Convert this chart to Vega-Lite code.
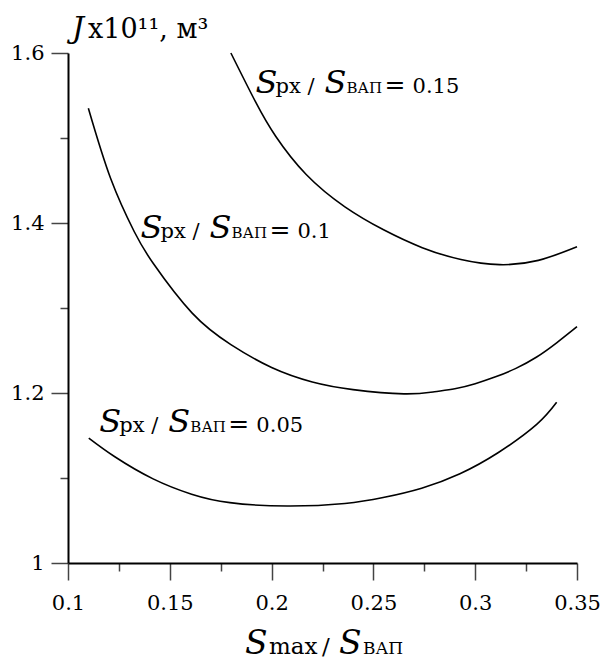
{
  "$schema": "https://vega.github.io/schema/vega-lite/v6.json",
  "width": 509,
  "height": 510,
  "autosize": "none",
  "padding": {"left": 68, "top": 53, "right": 25, "bottom": 98},
  "background": "white",
  "config": {
    "view": {"stroke": null},
    "font": "DejaVu Serif",
    "text": {"font": "DejaVu Serif", "color": "black"},
    "axis": {
      "labelFont": "DejaVu Serif",
      "labelFontSize": 21,
      "labelColor": "black",
      "domainColor": "black",
      "domainWidth": 2,
      "tickColor": "#444444",
      "tickWidth": 1.5,
      "grid": false,
      "title": null
    }
  },
  "datasets": {
    "curves": [
      {"ratio": "0.15", "x": 0.180, "y": 1.600},
      {"ratio": "0.15", "x": 0.192, "y": 1.543},
      {"ratio": "0.15", "x": 0.202, "y": 1.502},
      {"ratio": "0.15", "x": 0.217, "y": 1.457},
      {"ratio": "0.15", "x": 0.236, "y": 1.419},
      {"ratio": "0.15", "x": 0.255, "y": 1.392},
      {"ratio": "0.15", "x": 0.274, "y": 1.371},
      {"ratio": "0.15", "x": 0.293, "y": 1.357},
      {"ratio": "0.15", "x": 0.312, "y": 1.351},
      {"ratio": "0.15", "x": 0.331, "y": 1.356},
      {"ratio": "0.15", "x": 0.350, "y": 1.372},
      {"ratio": "0.1", "x": 0.110, "y": 1.535},
      {"ratio": "0.1", "x": 0.121, "y": 1.452},
      {"ratio": "0.1", "x": 0.1325, "y": 1.390},
      {"ratio": "0.1", "x": 0.142, "y": 1.352},
      {"ratio": "0.1", "x": 0.161, "y": 1.294},
      {"ratio": "0.1", "x": 0.180, "y": 1.257},
      {"ratio": "0.1", "x": 0.200, "y": 1.230},
      {"ratio": "0.1", "x": 0.220, "y": 1.213},
      {"ratio": "0.1", "x": 0.240, "y": 1.204},
      {"ratio": "0.1", "x": 0.265, "y": 1.199},
      {"ratio": "0.1", "x": 0.280, "y": 1.2015},
      {"ratio": "0.1", "x": 0.290, "y": 1.205},
      {"ratio": "0.1", "x": 0.300, "y": 1.211},
      {"ratio": "0.1", "x": 0.310, "y": 1.219},
      {"ratio": "0.1", "x": 0.320, "y": 1.229},
      {"ratio": "0.1", "x": 0.330, "y": 1.242},
      {"ratio": "0.1", "x": 0.340, "y": 1.259},
      {"ratio": "0.1", "x": 0.350, "y": 1.278},
      {"ratio": "0.05", "x": 0.1102, "y": 1.147},
      {"ratio": "0.05", "x": 0.123, "y": 1.125},
      {"ratio": "0.05", "x": 0.1418, "y": 1.099},
      {"ratio": "0.05", "x": 0.1607, "y": 1.081},
      {"ratio": "0.05", "x": 0.1795, "y": 1.071},
      {"ratio": "0.05", "x": 0.2077, "y": 1.067},
      {"ratio": "0.05", "x": 0.236, "y": 1.070},
      {"ratio": "0.05", "x": 0.2548, "y": 1.077},
      {"ratio": "0.05", "x": 0.2737, "y": 1.088},
      {"ratio": "0.05", "x": 0.2925, "y": 1.105},
      {"ratio": "0.05", "x": 0.3114, "y": 1.130},
      {"ratio": "0.05", "x": 0.3302, "y": 1.163},
      {"ratio": "0.05", "x": 0.340, "y": 1.189}
    ],
    "labels": [
      {"lab": "0.15", "x": 0.1926, "y": 1.5526},
      {"lab": "0.1", "x": 0.1361, "y": 1.3824},
      {"lab": "0.05", "x": 0.1159, "y": 1.1538}
    ],
    "ytitle": [{"x": 0.1, "y": 1.6}],
    "xtitle": [{"x": 0.1, "y": 1.0}]
  },
  "encoding": {
    "x": {
      "field": "x",
      "type": "quantitative",
      "scale": {"domain": [0.1, 0.35], "nice": false, "zero": false},
      "axis": {
        "values": [0.1, 0.125, 0.15, 0.175, 0.2, 0.225, 0.25, 0.275, 0.3, 0.325, 0.35],
        "labelExpr": "abs(datum.value*20-round(datum.value*20))<0.001 ? format(datum.value, '.2~f') : ''",
        "tickSize": {"condition": {"test": "abs(datum.value*20-round(datum.value*20))<0.001", "value": 17}, "value": 8},
        "labelPadding": 12,
        "labelFlush": false,
        "labelOverlap": false
      }
    },
    "y": {
      "field": "y",
      "type": "quantitative",
      "scale": {"domain": [1, 1.6], "nice": false, "zero": false},
      "axis": {
        "values": [1, 1.1, 1.2, 1.3, 1.4, 1.5, 1.6],
        "labelExpr": "abs(datum.value*5-round(datum.value*5))<0.001 ? format(datum.value, '.1~f') : ''",
        "tickSize": {"condition": {"test": "abs(datum.value*5-round(datum.value*5))<0.001", "value": 17}, "value": 8},
        "labelPadding": 7,
        "labelFlush": false,
        "labelOverlap": false
      }
    }
  },
  "layer": [
    {
      "data": {"name": "curves"},
      "mark": {"type": "line", "color": "black", "strokeWidth": 1.6, "interpolate": "natural"},
      "encoding": {"detail": {"field": "ratio"}}
    },
    {
      "data": {"name": "labels"},
      "mark": {"type": "text", "align": "left", "baseline": "alphabetic", "fontStyle": "italic", "fontSize": 32, "dx": -1},
      "encoding": {"text": {"value": "S"}}
    },
    {
      "data": {"name": "labels"},
      "mark": {"type": "text", "align": "left", "baseline": "alphabetic", "fontSize": 21, "dx": 19},
      "encoding": {"text": {"value": "px"}}
    },
    {
      "data": {"name": "labels"},
      "mark": {"type": "text", "align": "left", "baseline": "alphabetic", "fontSize": 21, "dx": 51},
      "encoding": {"text": {"value": "/"}}
    },
    {
      "data": {"name": "labels"},
      "mark": {"type": "text", "align": "left", "baseline": "alphabetic", "fontStyle": "italic", "fontSize": 32, "dx": 68},
      "encoding": {"text": {"value": "S"}}
    },
    {
      "data": {"name": "labels"},
      "mark": {"type": "text", "align": "left", "baseline": "alphabetic", "fontSize": 15, "dx": 90},
      "encoding": {"text": {"value": "ВАП"}}
    },
    {
      "data": {"name": "labels"},
      "mark": {"type": "text", "align": "left", "baseline": "alphabetic", "fontSize": 25, "dx": 128},
      "encoding": {"text": {"value": "="}}
    },
    {
      "data": {"name": "labels"},
      "mark": {"type": "text", "align": "left", "baseline": "alphabetic", "fontSize": 21, "dx": 156},
      "encoding": {"text": {"field": "lab"}}
    },
    {
      "data": {"name": "ytitle"},
      "mark": {"type": "text", "align": "left", "baseline": "alphabetic", "fontStyle": "italic", "fontSize": 30, "dx": 4, "dy": -15},
      "encoding": {"text": {"value": "J"}}
    },
    {
      "data": {"name": "ytitle"},
      "mark": {"type": "text", "align": "left", "baseline": "alphabetic", "fontSize": 27, "dx": 20, "dy": -15},
      "encoding": {"text": {"value": "x10¹¹, м³"}}
    },
    {
      "data": {"name": "xtitle"},
      "mark": {"type": "text", "align": "left", "baseline": "alphabetic", "fontStyle": "italic", "fontSize": 33, "dx": 177, "dy": 91},
      "encoding": {"text": {"value": "S"}}
    },
    {
      "data": {"name": "xtitle"},
      "mark": {"type": "text", "align": "left", "baseline": "alphabetic", "fontSize": 23, "dx": 201, "dy": 91},
      "encoding": {"text": {"value": "max"}}
    },
    {
      "data": {"name": "xtitle"},
      "mark": {"type": "text", "align": "left", "baseline": "alphabetic", "fontSize": 23, "dx": 254, "dy": 91},
      "encoding": {"text": {"value": "/"}}
    },
    {
      "data": {"name": "xtitle"},
      "mark": {"type": "text", "align": "left", "baseline": "alphabetic", "fontStyle": "italic", "fontSize": 33, "dx": 271, "dy": 91},
      "encoding": {"text": {"value": "S"}}
    },
    {
      "data": {"name": "xtitle"},
      "mark": {"type": "text", "align": "left", "baseline": "alphabetic", "fontSize": 17, "dx": 295, "dy": 91},
      "encoding": {"text": {"value": "ВАП"}}
    }
  ]
}
